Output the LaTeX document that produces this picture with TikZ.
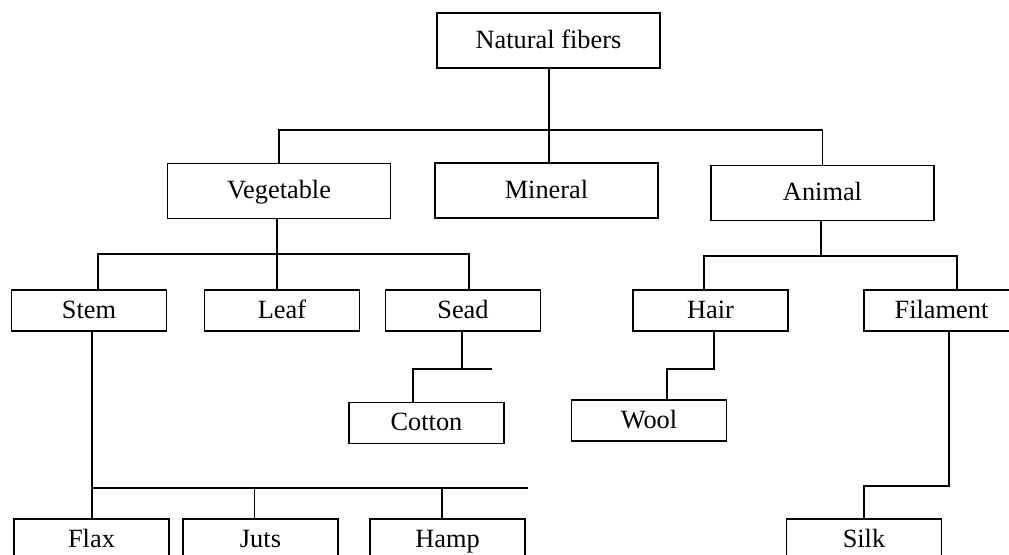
\documentclass[tikz,border=0pt]{standalone}
\usepackage{fontspec}
\setmainfont{Liberation Serif}
\usepackage{tikz}
\usetikzlibrary{positioning,calc}

\begin{document}
\begin{tikzpicture}[
x=0.02cm,
y=-0.02cm,
every node/.style={font=\fontsize{15}{17}\selectfont},
fibbig/.style={rectangle,draw,line width=1.1pt,align=center,inner sep=0pt,text height=10pt,text depth=1pt,minimum width=4.46cm,minimum height=1.1cm},
fibsmall/.style={rectangle,draw,line width=1.1pt,align=center,inner sep=0pt,text height=10pt,text depth=1pt,minimum width=3.1cm,minimum height=0.82cm},
fibline/.style={line width=1.1pt}
]
\clip (0,0) rectangle (1009,555);

\node[fibbig] (nat) at (548.5,40.5) {Natural fibers};
\node[fibbig] (veg) at (279,191) {Vegetable};
\node[fibbig] (min) at (546.5,190.5) {Mineral};
\node[fibbig] (ani) at (822.5,193) {Animal};

\node[fibsmall] (stem) at (89,310.5) {Stem};
\node[fibsmall] (leaf) at (282,310.5) {Leaf};
\node[fibsmall] (sead) at (463,310.5) {Sead};
\node[fibsmall] (hair) at (710.5,310.5) {Hair};
\node[fibsmall] (fil) at (941.5,310.5) {Filament};

\node[fibsmall] (cot) at (426.5,423) {Cotton};
\node[fibsmall] (wool) at (649,420.5) {Wool};

\node[fibsmall] (flax) at (91.5,539.5) {Flax};
\node[fibsmall] (juts) at (260.5,539.5) {Juts};
\node[fibsmall] (hamp) at (447.5,539.5) {Hamp};
\node[fibsmall] (silk) at (864,539.5) {Silk};

% bus points
\coordinate (busnat) at (549,130);
\coordinate (busveg) at (277,254);
\coordinate (busani) at (821,256);
\coordinate (bussead) at (462,369);
\coordinate (seadend) at (492,369);
\coordinate (busstem) at (92,488);
\coordinate (stemend) at (528,488);
\coordinate (bushair) at (714,369);
\coordinate (busfil) at (949,486);

% first level
\draw[fibline] (nat.south -| busnat) -- (busnat);
\draw[fibline] (busnat) -| (veg.north);
\draw[fibline] (busnat) -| (ani.north);
\draw[fibline] (busnat) -- (busnat |- min.north);

% vegetable
\draw[fibline] (veg.south -| busveg) -- (busveg);
\draw[fibline] (busveg) -| ([xshift=0.18cm]stem.north);
\draw[fibline] (busveg) -| ([xshift=0.12cm]sead.north);
\draw[fibline] (busveg) -- (busveg |- leaf.north);

\draw[fibline] (sead.south -| bussead) -- (bussead) -- (seadend);
\draw[fibline] (bussead) -| ([xshift=-0.27cm]cot.north);

\draw[fibline] (stem.south -| busstem) -- (busstem) -- (stemend);
\draw[fibline] (busstem) -- (busstem |- flax.north);
\draw[fibline] (busstem) -| ([xshift=-0.12cm]juts.north);
\draw[fibline] (busstem) -| ([xshift=-0.11cm]hamp.north);

% animal
\draw[fibline] (ani.south -| busani) -- (busani);
\draw[fibline] (busani) -| ([xshift=-0.13cm]hair.north);
\draw[fibline] (busani) -| ([xshift=0.31cm]fil.north);

\draw[fibline] (hair.south -| bushair) -- (bushair) -| ([xshift=0.36cm]wool.north);
\draw[fibline] (fil.south -| busfil) -- (busfil) -| (silk.north);
\end{tikzpicture}
\end{document}
